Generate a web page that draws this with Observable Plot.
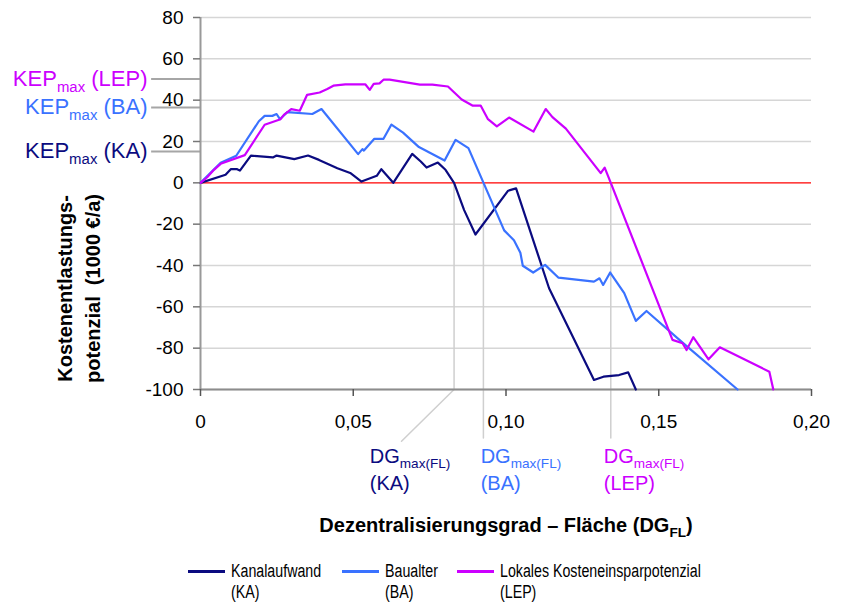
<!DOCTYPE html>
<html>
<head>
<meta charset="utf-8">
<script src="https://cdn.jsdelivr.net/npm/d3@7"></script>
<script src="https://cdn.jsdelivr.net/npm/@observablehq/plot@0.6"></script>
<style>
  html, body { margin: 0; padding: 0; background: #fff; }
  #wrap { position: relative; width: 848px; height: 602px; overflow: hidden; font-family: 'Liberation Sans', Arial, sans-serif; }
  #chart { position: absolute; left: 0; top: 0; }
  .lg-line { position: absolute; height: 3px; }
  .lg-text { position: absolute; font-size: 18px; line-height: 21px; white-space: nowrap; transform: scaleX(0.79); transform-origin: left top; color: #000; }
</style>
</head>
<body>
<div id="wrap"><div id="chart"></div></div>
<script>
// ---------- data ----------
const xTicks = [0, 0.05, 0.1, 0.15, 0.2];
const yTicks = [-100, -80, -60, -40, -20, 0, 20, 40, 60, 80];

const seriesKeys = ["KA", "BA", "LEP"];
const seriesColors = ["#0b0b80", "#3a72ff", "#cc00ff"];
const legendLabels = [["Kanalaufwand", "(KA)"], ["Baualter", "(BA)"], ["Lokales Kosteneinsparpotenzial", "(LEP)"]];

// Kanalaufwand (KA): [DG_FL, KEP (1000 €/a)]
const kaPoints = [[0,0],[0.0082,3.9],[0.0099,6.6],[0.012,6.6],[0.0129,5.9],[0.0165,13.2],[0.0237,12.3],[0.0249,13.2],[0.0307,11.5],[0.0352,13.2],[0.0388,11.1],[0.0448,7.1],[0.049,4.8],[0.0527,0.6],[0.0577,3.4],[0.0592,6.6],[0.0631,0],[0.0693,14.0],[0.0721,10.3],[0.074,7.4],[0.0777,9.8],[0.0802,6.3],[0.083,0],[0.0863,-13.2],[0.090,-25],[0.1007,-3.8],[0.1033,-2.7],[0.1141,-51],[0.1288,-95.4],[0.1319,-93.8],[0.137,-93],[0.140,-91.7],[0.1425,-100]];
// Baualter (BA)
const baPoints = [[0,0],[0.0066,9.7],[0.0117,13.1],[0.0191,29.8],[0.021,32.4],[0.0235,32.4],[0.0249,33.3],[0.026,30.8],[0.0284,34.2],[0.0366,33.3],[0.0396,35.7],[0.0516,13.9],[0.053,16.3],[0.0535,15.6],[0.0569,21.3],[0.0599,21.3],[0.0625,28.2],[0.0663,24.3],[0.0715,17.3],[0.0799,10.8],[0.0835,20.8],[0.0877,16.8],[0.0994,-23],[0.1026,-27.8],[0.1047,-33.8],[0.1055,-40.1],[0.1089,-43.4],[0.1128,-39.7],[0.1172,-45.9],[0.1288,-47.8],[0.1306,-46.2],[0.1318,-49.4],[0.1341,-43.4],[0.1387,-53.4],[0.1425,-66.8],[0.146,-62],[0.1578,-77.3],[0.1758,-100]];
// Lokales Kosteneinsparpotenzial (LEP)
const lepPoints = [[0,0],[0.0022,2.7],[0.0044,6.3],[0.0066,9.2],[0.0145,13.4],[0.021,28.1],[0.0262,30.8],[0.0273,32.9],[0.0297,35.7],[0.0325,34.9],[0.0349,42.6],[0.039,43.7],[0.0415,45.4],[0.0435,47],[0.0474,47.6],[0.054,47.6],[0.0554,45],[0.0567,47.9],[0.0586,48.1],[0.0599,49.9],[0.0619,49.9],[0.0718,47.5],[0.0759,47.5],[0.081,46.6],[0.0855,40.3],[0.089,37.4],[0.0917,37.4],[0.0941,30.8],[0.097,27.3],[0.101,31.6],[0.109,24.8],[0.113,35.7],[0.1152,31.8],[0.1196,26.2],[0.131,4.7],[0.1323,7.4],[0.1343,0],[0.1545,-76],[0.1578,-77.6],[0.1591,-80.9],[0.1613,-74.7],[0.1663,-85.4],[0.17,-79.6],[0.1862,-91.4],[0.1875,-100]];

const kepMax = [15.2, 36.5, 50.2];        // KEPmax per series
const dgMax = [0.083, 0.0926, 0.1343];     // DGmax(FL) per series
const kepLabels = ["KEP_{max} (KA)", "KEP_{max} (BA)", "KEP_{max} (LEP)"];
const dgLabels1 = ["DG_{max(FL)}", "DG_{max(FL)}", "DG_{max(FL)}"];
const dgLabels2 = ["(KA)", "(BA)", "(LEP)"];
const xTitle = "Dezentralisierungsgrad – Fläche (DG_{FL})";
const yTitle = ["Kostenentlastungs-", "potenzial\u00a0\u00a0(1000 €/a)"];

// ---------- build ----------
const allSeries = [kaPoints, baPoints, lepPoints];
const rows = allSeries.flatMap((pts, i) => pts.map(([x, y]) => ({series: seriesKeys[i], x, y})));
const kepRows = kepMax.map((v, i) => ({v, label: kepLabels[i], c: seriesColors[i]}));
// DG guide lines: vertical from the zero crossing down below the axis
const dgRows = [
  ...[[dgMax[0], 0], [dgMax[0], -100], [0.0658, -125]].map(([x, y]) => ({k: "KA", x, y})),
  ...[[dgMax[1], 0], [dgMax[1], -123.5]].map(([x, y]) => ({k: "BA", x, y})),
  ...[[dgMax[2], 0], [dgMax[2], -123.5]].map(([x, y]) => ({k: "LEP", x, y}))
];
const dgLabelX = [0.0554, 0.0917, 0.132];
const dgText = seriesKeys.map((k, i) => ({x: dgLabelX[i], l1: dgLabels1[i], l2: dgLabels2[i], c: seriesColors[i]}));

const fmtX = d => d === 0 ? "0" : d.toFixed(2).replace(".", ",");

const chart = Plot.plot({
  width: 848,
  height: 545,
  marginLeft: 200,
  marginRight: 37,
  marginTop: 17,
  marginBottom: 156,
  style: {fontFamily: "'Liberation Sans', Arial, sans-serif", fontSize: "19px", background: "white", color: "black", overflow: "visible"},
  x: {domain: [0, 0.2], label: null},
  y: {domain: [-100, 80], label: null},
  color: {domain: seriesKeys, range: seriesColors},
  marks: [
    Plot.ruleY(yTicks.filter(d => d !== 0), {stroke: "#d6d6d6", strokeWidth: 1.5}),
    Plot.ruleY([0], {stroke: "#ff0000", strokeWidth: 1.3}),
    Plot.line(dgRows, {x: "x", y: "y", z: "k", stroke: "#cfcfcf", strokeWidth: 1.5}),
    Plot.ruleY(kepRows, {y: "v", x1: -0.016, x2: 0, stroke: "#a6a6a6", strokeWidth: 2}),
    Plot.ruleX([0], {stroke: "#999999", strokeWidth: 2}),
    Plot.ruleY([-100], {stroke: "#8c8c8c", strokeWidth: 2}),
    Plot.line(rows, {x: "x", y: "y", z: "series", stroke: "series", strokeWidth: 2.2}),
    Plot.axisY({ticks: yTicks, tickSize: 7, tickPadding: 10, tickFormat: d => String(d), stroke: "#777", fill: "black", strokeWidth: 1.5, fontSize: 19, label: null}),
    Plot.axisX({ticks: xTicks, tickSize: 7, tickPadding: 18, tickFormat: fmtX, stroke: "#555", fill: "black", strokeWidth: 1.5, fontSize: 19, label: null}),
    Plot.text(kepRows, {x: -0.01735, y: "v", text: "label", fill: "c", textAnchor: "end", fontSize: 22}),
    Plot.text(dgText, {x: "x", y: -132.3, text: "l1", fill: "c", textAnchor: "start", fontSize: 20}),
    Plot.text(dgText, {x: "x", y: -145.7, text: "l2", fill: "c", textAnchor: "start", fontSize: 20}),
    Plot.text([xTitle], {x: 0.1, y: -165.8, text: d => d, fontSize: 20, fontWeight: "bold", fill: "black"}),
    Plot.text([yTitle[0]], {x: -0.0442, y: -51.1, text: d => d, rotate: -90, fontSize: 20, fontWeight: "bold", fill: "black"}),
    Plot.text([yTitle[1]], {x: -0.035, y: -51.1, text: d => d, rotate: -90, fontSize: 20, fontWeight: "bold", fill: "black"})
  ]
});

document.getElementById("chart").appendChild(chart);

// subscripts: "A_{B}C" -> A + subscript B + C
const NS = "http://www.w3.org/2000/svg";
chart.querySelectorAll("text").forEach(t => {
  if (t.children.length) return;
  const m = t.textContent.match(/^(.*)_\{(.*)\}(.*)$/);
  if (!m) return;
  const fs = parseFloat(getComputedStyle(t).fontSize);
  const subFs = fs * 0.68, shift = fs * 0.25;
  t.textContent = "";
  t.appendChild(document.createTextNode(m[1]));
  const sub = document.createElementNS(NS, "tspan");
  sub.setAttribute("font-size", subFs);
  sub.setAttribute("dy", shift);
  sub.textContent = m[2];
  t.appendChild(sub);
  if (m[3]) {
    const rest = document.createElementNS(NS, "tspan");
    rest.setAttribute("dy", -shift);
    rest.textContent = m[3];
    t.appendChild(rest);
  }
});

// legend (HTML, below the SVG)
const wrap = document.getElementById("wrap");
const legendLeft = [188, 342, 457];
seriesKeys.forEach((k, i) => {
  const ln = document.createElement("div");
  ln.className = "lg-line";
  ln.style.left = legendLeft[i] + "px";
  ln.style.top = "570px";
  ln.style.width = "37px";
  ln.style.background = seriesColors[i];
  wrap.appendChild(ln);
  const tx = document.createElement("div");
  tx.className = "lg-text";
  tx.style.left = (legendLeft[i] + 43) + "px";
  tx.style.top = "561px";
  tx.innerHTML = legendLabels[i][0] + "<br>" + legendLabels[i][1];
  wrap.appendChild(tx);
});
</script>
</body>
</html>
